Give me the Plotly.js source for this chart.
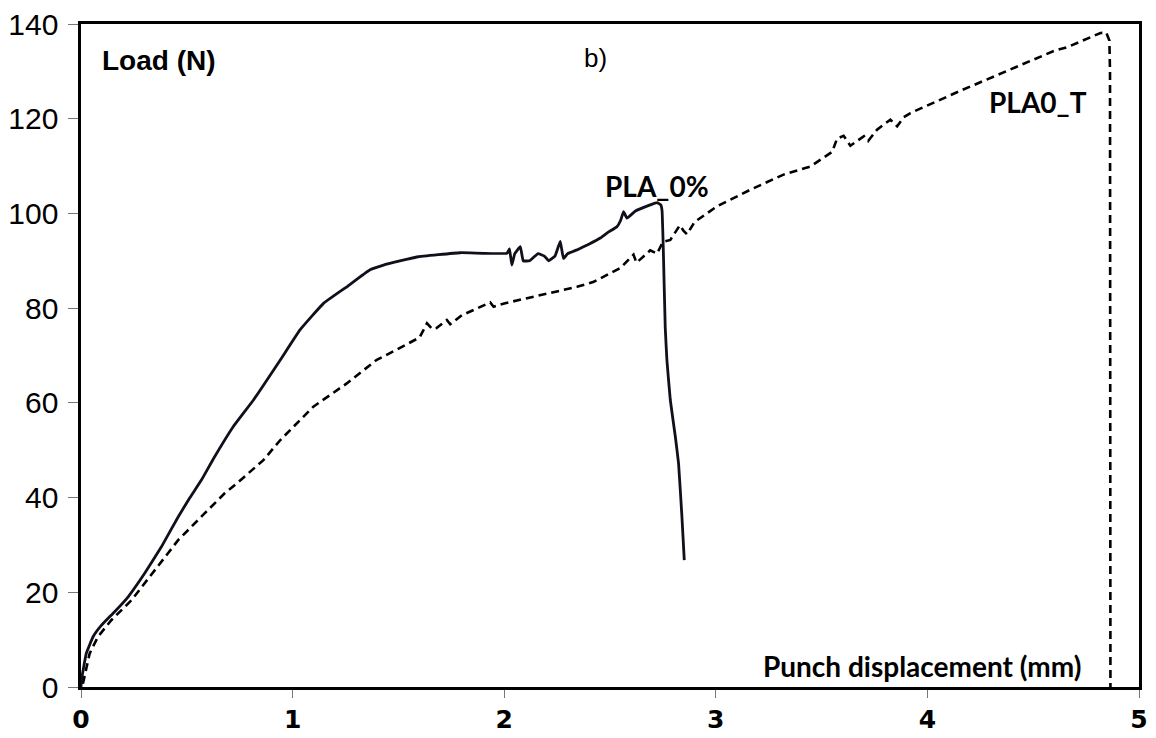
<!DOCTYPE html>
<html>
<head>
<meta charset="utf-8">
<script src="https://cdn.plot.ly/plotly-3.0.1.min.js"></script>
<style>html,body{margin:0;padding:0;background:#fff;}#chart{width:1156px;height:738px;}</style>
</head>
<body>
<div id="chart"></div>
<script>
// PLA_0% (solid)
const pla0_x = [0, 0.002, 0.025, 0.057, 0.096, 0.159, 0.222, 0.301, 0.38, 0.459, 0.515, 0.569, 0.626, 0.72, 0.815, 0.941, 1.035, 1.146, 1.256, 1.366, 1.43, 1.587, 1.792, 2.013, 2.025, 2.036, 2.05, 2.076, 2.09, 2.12, 2.16, 2.19, 2.21, 2.24, 2.265, 2.28, 2.3, 2.344, 2.4, 2.454, 2.49, 2.533, 2.55, 2.564, 2.58, 2.62, 2.69, 2.722, 2.74, 2.746, 2.752, 2.761, 2.769, 2.785, 2.809, 2.824, 2.84, 2.851];
const pla0_y = [0, 1.4, 7.1, 10.6, 13, 15.9, 19, 24, 29.6, 35.9, 40, 43.7, 48.2, 55, 60.6, 69, 75.4, 81, 84.5, 88.1, 89.1, 90.8, 91.7, 91.6, 92.5, 89.1, 91.5, 93, 90, 90, 91.5, 91, 90, 91, 94.1, 90.5, 91.5, 92.3, 93.5, 94.8, 96, 97.2, 98.5, 100.4, 99, 100.5, 101.8, 102.3, 101.8, 100.6, 92.3, 76, 69, 60.6, 52.8, 47.2, 35.9, 26.8];

// PLA0_T (dashed)
const pla0t_x = [0.009, 0.041, 0.08, 0.143, 0.238, 0.348, 0.459, 0.585, 0.679, 0.736, 0.862, 0.941, 1.098, 1.256, 1.398, 1.43, 1.55, 1.6, 1.635, 1.66, 1.68, 1.729, 1.745, 1.8, 1.934, 1.95, 2.0, 2.139, 2.344, 2.42, 2.501, 2.55, 2.611, 2.625, 2.643, 2.69, 2.722, 2.75, 2.785, 2.83, 2.848, 2.864, 2.9, 3.006, 3.163, 3.32, 3.447, 3.5, 3.55, 3.573, 3.604, 3.636, 3.7, 3.72, 3.762, 3.825, 3.857, 3.888, 3.92, 4.156, 4.424, 4.597, 4.66, 4.818, 4.845, 4.86, 4.863, 4.865];
const pla0t_y = [0.7, 7.1, 10.6, 14.1, 18.3, 24.7, 31, 36.7, 40.9, 43, 47.9, 52.1, 59.2, 64.1, 69.1, 69.8, 72.5, 73.8, 76.8, 75.6, 75.8, 77.5, 76.6, 78.5, 81.2, 80.3, 81, 82.4, 84.5, 85.5, 87.4, 88.5, 91.3, 89.6, 90.3, 92.2, 91.5, 94, 94.4, 97.5, 96.3, 95.6, 98.2, 101.5, 105, 108.2, 109.9, 111.5, 113, 115.8, 116.4, 114.3, 116.3, 115.3, 117.7, 119.8, 118.4, 120.3, 121.2, 125.9, 131, 134.3, 135.1, 138.1, 138.2, 136.5, 130, 0];

const xTicks = [0, 1, 2, 3, 4, 5];
const yTicks = [0, 20, 40, 60, 80, 100, 120, 140];

const traces = [
  {x: pla0_x, y: pla0_y, type: 'scatter', mode: 'lines', name: 'PLA_0%',
   line: {color: '#10101c', width: 2.8, shape: 'spline', smoothing: 0.3}},
  {x: pla0t_x, y: pla0t_y, type: 'scatter', mode: 'lines', name: 'PLA0_T',
   line: {color: '#000000', width: 2.6, dash: '8px,5px'}}
];

const annFont = {family: 'Lato, "Open Sans", sans-serif', size: 28, color: '#000'};
const layout = {
  width: 1156, height: 738,
  margin: {l: 81, r: 17, t: 24, b: 51},
  paper_bgcolor: '#fff', plot_bgcolor: '#fff',
  showlegend: false,
  xaxis: {
    range: [0, 5], tickvals: xTicks, ticktext: xTicks.map(String),
    showline: true, linecolor: '#000', linewidth: 2.6, mirror: true,
    showgrid: false, zeroline: false,
    ticks: 'outside', ticklen: 8, tickwidth: 1, tickcolor: '#777',
    tickfont: {family: '"DejaVu Sans", sans-serif', size: 25, color: '#000', weight: 'bold'}
  },
  yaxis: {
    range: [0, 140], tickvals: yTicks, ticktext: yTicks.map(String),
    showline: true, linecolor: '#000', linewidth: 2.6, mirror: true,
    showgrid: false, zeroline: false,
    ticks: 'outside', ticklen: 10, tickwidth: 1, tickcolor: '#777',
    ticklabelstandoff: 4,
    tickfont: {family: '"Liberation Sans", Arial, sans-serif', size: 30, color: '#000'}
  },
  annotations: [
    {x: 0.09, y: 132.2, xref: 'x', yref: 'y', text: '<b>Load (N)</b>', showarrow: false,
     xanchor: 'left', yanchor: 'middle',
     font: {family: '"Liberation Sans", Arial, sans-serif', size: 28, color: '#000'}},
    {x: 2.43, y: 132.9, xref: 'x', yref: 'y', text: 'b)', showarrow: false,
     xanchor: 'center', yanchor: 'middle',
     font: {family: '"Liberation Sans", Arial, sans-serif', size: 26, color: '#000'}},
    {x: 2.723, y: 105.8, xref: 'x', yref: 'y', text: '<b>PLA_0%</b>', showarrow: false,
     xanchor: 'center', yanchor: 'middle', font: annFont},
    {x: 4.525, y: 123.6, xref: 'x', yref: 'y', text: '<b>PLA0_T</b>', showarrow: false,
     xanchor: 'center', yanchor: 'middle', font: annFont},
    {x: 3.976, y: 4.4, xref: 'x', yref: 'y', text: '<b>Punch displacement (mm)</b>', showarrow: false,
     xanchor: 'center', yanchor: 'middle', font: annFont}
  ]
};

Plotly.newPlot('chart', traces, layout, {staticPlot: true, displayModeBar: false});
</script>
</body>
</html>
